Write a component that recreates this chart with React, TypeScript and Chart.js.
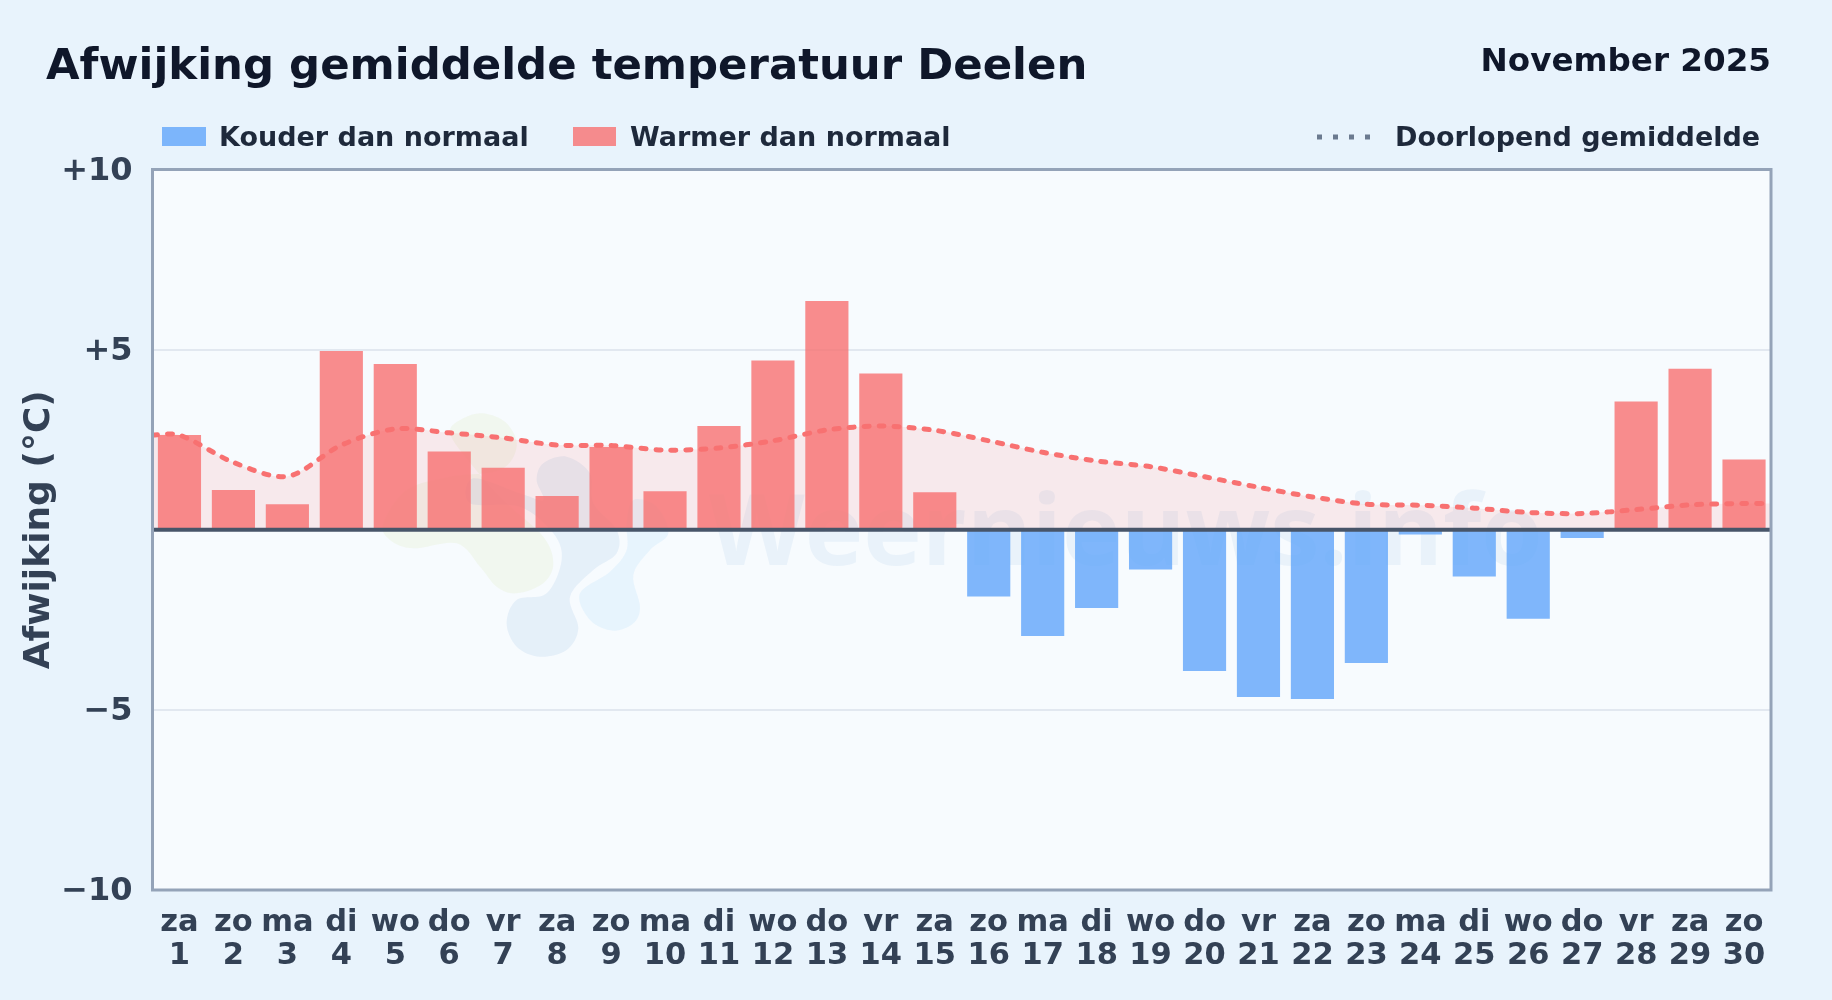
import React, { useEffect, useRef } from "react";
import { Chart, registerables } from "chart.js";

Chart.register(...registerables);

const weekdays = ["za","zo","ma","di","wo","do","vr","za","zo","ma","di","wo","do","vr","za","zo","ma","di","wo","do","vr","za","zo","ma","di","wo","do","vr","za","zo"];
const dayNumbers = [1,2,3,4,5,6,7,8,9,10,11,12,13,14,15,16,17,18,19,20,21,22,23,24,25,26,27,28,29,30];
const warmer = [2.63,1.1,0.71,4.96,4.6,2.17,1.72,0.94,2.3,1.07,2.88,4.7,6.35,4.34,1.04,null,null,null,null,null,null,null,null,null,null,null,null,3.56,4.47,1.95];
const colder = [null,null,null,null,null,null,null,null,null,null,null,null,null,null,null,-1.85,-2.95,-2.17,-1.1,-3.92,-4.64,-4.7,-3.7,-0.13,-1.3,-2.47,-0.23,null,null,null];
const averageDays = [0.5,1,2,3,4,5,6,7,8,9,10,11,12,13,14,15,16,17,18,19,20,21,22,23,24,25,26,27,28,29,30,30.5];
const runningAverage = [2.63,2.63,1.87,1.48,2.35,2.8,2.69,2.55,2.35,2.34,2.21,2.27,2.47,2.77,2.88,2.76,2.47,2.15,1.91,1.75,1.47,1.18,0.91,0.71,0.68,0.6,0.48,0.45,0.56,0.69,0.73,0.73];
const yTickLabels: Record<string, string> = { "10": "+10", "5": "+5", "0": "", "-5": "\u22125", "-10": "\u221210" };

const FONT = '"DejaVu Sans"';

const yellowBlob = [[330,130],[370,85],[430,70],[500,100],[530,170],[480,240],[330,260],[200,300],[130,400],[150,450],[220,475],[350,460],[420,530],[470,590],[530,610],[610,580],[640,520],[610,440],[500,340],[400,230]];
const blueBlob = [[500,700],[530,770],[600,800],[680,780],[715,715],[690,620],[760,540],[830,490],[830,420],[760,340],[750,250],[680,200],[610,220],[590,270],[610,330],[540,310],[400,265],[390,340],[540,350],[640,430],[665,510],[620,610],[530,630]];
const lightBlob = [[720,610],[750,690],[820,722],[880,700],[900,650],[880,555],[930,480],[985,430],[950,350],[880,330],[860,400],[860,480],[810,545]];

function smoothBlob(ctx: CanvasRenderingContext2D, pts: number[][], fill: string) {
  const p = pts.map(([x, y]) => [340 + x / 3, 390 + y / 3]);
  const n = p.length;
  ctx.beginPath();
  ctx.moveTo(p[0][0], p[0][1]);
  for (let i = 0; i < n; i++) {
    const a = p[(i - 1 + n) % n], b = p[i], c = p[(i + 1) % n], d = p[(i + 2) % n];
    ctx.bezierCurveTo(b[0] + (c[0] - a[0]) / 6, b[1] + (c[1] - a[1]) / 6, c[0] - (d[0] - b[0]) / 6, c[1] - (d[1] - b[1]) / 6, c[0], c[1]);
  }
  ctx.closePath();
  ctx.fillStyle = fill;
  ctx.fill();
}

const decorations = {
  id: "decorations",
  beforeDraw(chart: any) {
    const { ctx, chartArea: a, width, height, scales } = chart;
    const items = scales.y.getLabelItems(a);
    if (!chart.$ticksShifted) {
      items.forEach((it: any) => { it.options.translation[1] += 2; });
      chart.$ticksShifted = true;
    }
    ctx.save();
    ctx.fillStyle = "#e8f3fc";
    ctx.fillRect(0, 0, width, height);
    ctx.fillStyle = "#f7fbfe";
    ctx.fillRect(a.left, a.top, a.right - a.left, a.bottom - a.top);

    smoothBlob(ctx, yellowBlob, "rgba(226,238,200,0.28)");
    smoothBlob(ctx, blueBlob, "rgba(170,200,230,0.22)");
    smoothBlob(ctx, lightBlob, "rgba(190,225,250,0.28)");
    ctx.font = `700 99px "Open Sans"`;
    ctx.fillStyle = "rgba(120,165,215,0.10)";
    ctx.textAlign = "left";
    ctx.textBaseline = "alphabetic";
    ctx.fillText("Weernieuws.info", 709, 565);

    // Heading
    ctx.fillStyle = "#0f172a";
    ctx.font = `bold 43.4px ${FONT}`;
    ctx.fillText("Afwijking gemiddelde temperatuur Deelen", 46, 79);
    ctx.font = `bold 32.6px ${FONT}`;
    ctx.textAlign = "right";
    ctx.fillText("November 2025", 1771, 71);

    // Legend
    ctx.textAlign = "left";
    ctx.font = `bold 27px ${FONT}`;
    ctx.fillStyle = "rgba(96,165,250,0.8)";
    ctx.fillRect(162, 127, 44, 19);
    ctx.fillStyle = "rgba(248,113,113,0.8)";
    ctx.fillRect(573, 127, 43, 19);
    ctx.fillStyle = "#1e293b";
    ctx.fillText("Kouder dan normaal", 219, 146);
    ctx.fillText("Warmer dan normaal", 630, 146);
    ctx.fillText("Doorlopend gemiddelde", 1395, 146);
    ctx.strokeStyle = "#6b7a8f";
    ctx.lineWidth = 5;
    ctx.setLineDash([5, 11]);
    ctx.beginPath();
    ctx.moveTo(1317, 137);
    ctx.lineTo(1374, 137);
    ctx.stroke();
    ctx.restore();
  },
  afterDatasetsDraw(chart: any) {
    const { ctx, chartArea: a, scales } = chart;
    const y0 = scales.y.getPixelForValue(0);
    ctx.save();
    ctx.strokeStyle = "#475569";
    ctx.lineWidth = 4;
    ctx.beginPath();
    ctx.moveTo(a.left, y0);
    ctx.lineTo(a.right, y0);
    ctx.stroke();
    ctx.strokeStyle = "#94a3b8";
    ctx.lineWidth = 3;
    ctx.strokeRect(a.left, a.top, a.right - a.left, a.bottom - a.top);
    ctx.restore();
  },
};

export default function App() {
  const ref = useRef<HTMLCanvasElement>(null);
  useEffect(() => {
    const chart = new Chart(ref.current as HTMLCanvasElement, {
      type: "bar",
      data: {
        labels: weekdays.map((d, i) => [d, String(dayNumbers[i])]),
        datasets: [
          {
            type: "line",
            label: "Doorlopend gemiddelde",
            data: averageDays.map((x, i) => ({ x, y: runningAverage[i] })),
            xAxisID: "x2",
            borderColor: "#f87171",
            borderWidth: 5,
            borderDash: [5, 10],
            borderCapStyle: "round",
            backgroundColor: "rgba(248,113,113,0.13)",
            fill: "origin",
            pointRadius: 0,
            tension: 0.3,
            order: 0,
          },
          { label: "Kouder dan normaal", data: colder, backgroundColor: "rgba(96,165,250,0.8)", grouped: false, barPercentage: 0.8, categoryPercentage: 1, order: 1 },
          { label: "Warmer dan normaal", data: warmer, backgroundColor: "rgba(248,113,113,0.8)", grouped: false, barPercentage: 0.8, categoryPercentage: 1, order: 1 },
        ] as any,
      },
      options: {
        responsive: false,
        animation: false,
        layout: { padding: { top: 169.5, right: 61, left: 0, bottom: 0 } },
        plugins: { legend: { display: false }, title: { display: false }, tooltip: { enabled: false } },
        scales: {
          x: {
            grid: { display: false },
            border: { display: false },
            offset: true,
            ticks: { color: "#334155", font: { family: FONT, weight: "bold", size: 30.5, lineHeight: 1.1 }, maxRotation: 0, autoSkip: false, padding: 8 },
            afterFit(s: any) { s.height = 110; },
          },
          x2: { type: "linear", min: 0.5, max: 30.5, display: false, offset: false },
          y: {
            min: -10,
            max: 10,
            grid: { color: "#e2e8f0", lineWidth: 2, drawTicks: false },
            border: { display: false },
            title: { display: true, text: "Afwijking (\u00b0C)", color: "#334155", font: { family: FONT, weight: "bold", size: 36 }, padding: { top: 18, bottom: 0 } },
            ticks: { stepSize: 5, color: "#334155", padding: 20, font: { family: FONT, weight: "bold", size: 32 }, callback: (v: any) => yTickLabels[String(v)] ?? "" },
            afterFit(s: any) { s.width = 152.5; },
          },
        },
      } as any,
      plugins: [decorations],
    });
    return () => chart.destroy();
  }, []);
  return (
    <div style={{ position: "absolute", left: 0, top: 0, width: 1832, height: 1000 }}>
      <canvas ref={ref} width={1832} height={1000} style={{ display: "block", width: 1832, height: 1000 }} />
    </div>
  );
}
